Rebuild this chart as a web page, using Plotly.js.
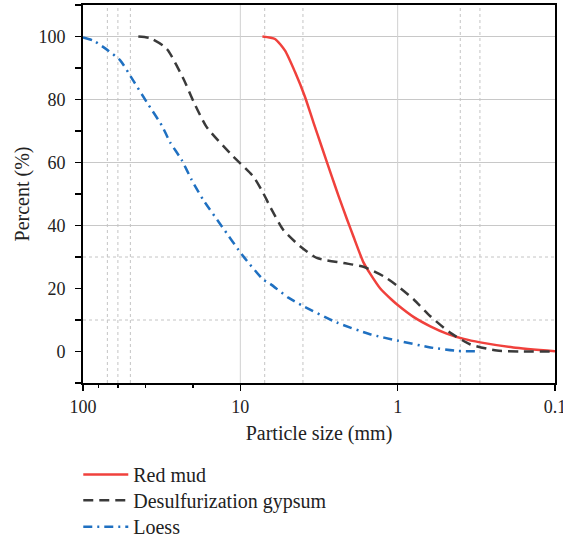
<!DOCTYPE html>
<html><head><meta charset="utf-8">
<script src="https://cdn.plot.ly/plotly-3.0.1.min.js"></script>
<style>html,body{margin:0;padding:0;background:#fff}#chart{width:563px;height:540px}</style>
</head><body><div id="chart"></div>
<script>
// Red mud
const redSize = [7.24, 6.02, 5.20, 4.49, 3.88, 3.44, 3.04, 2.62, 2.38, 2.10, 1.91, 1.65, 1.50, 1.29, 1.10, 0.99, 0.794, 0.62, 0.488, 0.38, 0.299, 0.184, 0.1];
const redPct  = [100, 99.2, 95.5, 88.7, 80.8, 72.9, 65.0, 55.5, 49.5, 42.0, 36.5, 28.3, 24.8, 20.0, 16.6, 14.6, 11.0, 8.0, 5.7, 4.0, 2.9, 1.3, 0.1];
// Desulfurization gypsum
const gypSize = [44.5, 37.5, 30.9, 28.7, 23.0, 19.9, 16.4, 11.6, 8.26, 7.14, 6.47, 5.33, 4.17, 3.27, 2.21, 1.65, 1.23, 0.966, 0.79, 0.62, 0.465, 0.347, 0.234, 0.167, 0.1];
const gypPct  = [100, 99.5, 97.1, 95.5, 86.6, 79.5, 71.3, 62.9, 55.5, 50.2, 46, 38.6, 33.4, 29.7, 28.1, 26.9, 23.9, 20.2, 16.5, 11.2, 6, 2.3, 0.3, 0, 0];
// Loess
const loeSize = [100, 86, 69, 58, 47.9, 39.4, 31.6, 28.0, 23.6, 20.4, 17.2, 13.1, 9.57, 7.14, 6.47, 4.95, 3.98, 2.44, 1.50, 0.99, 0.62, 0.42, 0.314];
const loePct  = [99.7, 98.7, 95.5, 92.4, 86.0, 79.2, 71.8, 66.5, 60.8, 54.5, 48.1, 39.7, 30.2, 22.8, 21.5, 17.1, 14.4, 9.2, 5.5, 3.4, 1.3, 0.2, 0.1];

const xTickVals = [100, 10, 1, 0.1];
const xTickText = ['100', '10', '1', '0.1'];
const yTickVals = [0, 20, 40, 60, 80, 100];

// decorative gridlines (as in the original figure)
const gridSolidY = [40, 60, 80, 100];
const gridDotY = [10, 30];
const gridSolidX = [10, 1];
const gridDotX = [70, 60, 50, 7, 4, 0.4, 0.3];

const FONT = 'Liberation Serif, Times New Roman, serif';
const LFONT = {family: FONT, size: 20, color: '#222'};

const traces = [
  {x: redSize, y: redPct, name: 'Red mud', mode: 'lines', legend: 'legend',
   line: {color: '#f0413c', width: 2.5, shape: 'spline', smoothing: 0.6}},
  {x: gypSize, y: gypPct, name: 'Desulfurization gypsum', mode: 'lines', legend: 'legend2',
   line: {color: '#3a3a3a', width: 2.5, dash: '10px,6px', shape: 'spline', smoothing: 0.6}},
  {x: loeSize, y: loePct, name: 'Loess', mode: 'lines', legend: 'legend3',
   line: {color: '#1f70c1', width: 2.5, dash: '9px,5px,2px,5px', shape: 'spline', smoothing: 0.6}}
];

const shapes = [];
gridSolidY.forEach(v => shapes.push({type: 'line', xref: 'paper', yref: 'y', x0: 0, x1: 1, y0: v, y1: v, layer: 'below', line: {color: '#c8c8c8', width: 1}}));
gridDotY.forEach(v => shapes.push({type: 'line', xref: 'paper', yref: 'y', x0: 0, x1: 1, y0: v, y1: v, layer: 'below', line: {color: '#c4c4c4', width: 1, dash: 'dot'}}));
gridSolidX.forEach(v => shapes.push({type: 'line', xref: 'x', yref: 'paper', x0: v, x1: v, y0: 0, y1: 1, layer: 'below', line: {color: '#d0d0d0', width: 1}}));
gridDotX.forEach(v => shapes.push({type: 'line', xref: 'x', yref: 'paper', x0: v, x1: v, y0: 0, y1: 1, layer: 'below', line: {color: '#c4c4c4', width: 1, dash: 'dot'}}));

function leg(yc) {
  return {orientation: 'v', x: -0.01, xanchor: 'left', y: yc, yanchor: 'middle',
          itemwidth: 45, font: LFONT, bgcolor: 'rgba(0,0,0,0)'};
}

const layout = {
  width: 563, height: 540,
  margin: {l: 83, r: 8, t: 5, b: 157, autoexpand: false},
  paper_bgcolor: '#fff', plot_bgcolor: '#fff',
  font: {family: FONT, size: 18, color: '#222'},
  showlegend: true,
  legend: leg(-0.242),
  legend2: leg(-0.31),
  legend3: leg(-0.38),
  xaxis: {type: 'log', range: [2, -1], tickvals: xTickVals, ticktext: xTickText, ticklabeloverflow: 'allow',
          showgrid: false, zeroline: false, showline: true, linecolor: '#000', linewidth: 2, mirror: true,
          ticks: 'outside', ticklen: 6, tickwidth: 1.5, tickcolor: '#000',
          minor: {ticks: 'outside', ticklen: 3, tickwidth: 1.5, tickcolor: '#000', showgrid: false},
          tickfont: {family: FONT, size: 18, color: '#222'},
          title: {text: 'Particle size (mm)', font: LFONT, standoff: 10}},
  yaxis: {range: [-10, 110], tickvals: yTickVals, showgrid: false, zeroline: false,
          showline: true, linecolor: '#000', linewidth: 2, mirror: true,
          ticks: 'outside', ticklen: 6, tickwidth: 1.5, tickcolor: '#000', ticklabelstandoff: 6,
          minor: {dtick: 10, tick0: 0, ticks: 'outside', ticklen: 6, tickwidth: 1.5, tickcolor: '#000', showgrid: false},
          tickfont: {family: FONT, size: 18, color: '#222'},
          title: {text: 'Percent (%)', font: LFONT, standoff: 3}},
  shapes: shapes
};

Plotly.newPlot('chart', traces, layout, {displayModeBar: false, staticPlot: true});
</script>
</body></html>
